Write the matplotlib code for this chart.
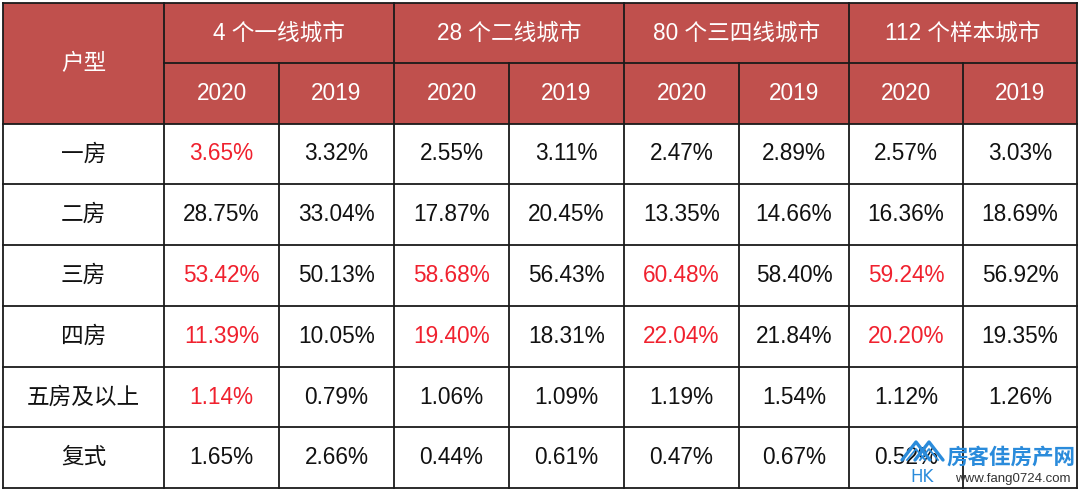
import matplotlib
matplotlib.use('Agg')
import matplotlib.pyplot as plt
from matplotlib.patches import Rectangle

plt.rcParams['font.family'] = ['Liberation Sans', 'Noto Sans CJK SC', 'DejaVu Sans']

# 데이터
groups = ['4 个一线城市', '28 个二线城市', '80 个三四线城市', '112 个样本城市']
years = ['2020', '2019']
room_types = ['一房', '二房', '三房', '四房', '五房及以上', '复式']
values = [
    ['3.65%', '3.32%', '2.55%', '3.11%', '2.47%', '2.89%', '2.57%', '3.03%'],
    ['28.75%', '33.04%', '17.87%', '20.45%', '13.35%', '14.66%', '16.36%', '18.69%'],
    ['53.42%', '50.13%', '58.68%', '56.43%', '60.48%', '58.40%', '59.24%', '56.92%'],
    ['11.39%', '10.05%', '19.40%', '18.31%', '22.04%', '21.84%', '20.20%', '19.35%'],
    ['1.14%', '0.79%', '1.06%', '1.09%', '1.19%', '1.54%', '1.12%', '1.26%'],
    ['1.65%', '2.66%', '0.44%', '0.61%', '0.47%', '0.67%', '0.52%', ''],  # 마지막 셀은 워터마크에 가려짐
]
# 빨간 글씨 셀 (row, col)
highlight = [(0, 0), (2, 0), (2, 2), (2, 4), (2, 6), (3, 0), (3, 2), (3, 4), (3, 6), (4, 0)]

# 레이아웃 (픽셀)
col_x = [3, 164, 279, 394, 509, 624, 739, 849, 963, 1077]
row_y = [3, 63, 124, 184, 245, 306, 367, 427, 488]

header_color = '#C0504D'
red = '#F0212E'
line_color = '#1a1a1a'
wm_blue = '#2A8BDB'

fig = plt.figure(figsize=(10.8, 4.91), dpi=100)
ax = fig.add_axes([0, 0, 1, 1])
ax.set_xlim(0, 1080)
ax.set_ylim(491, 0)
ax.axis('off')

# 헤더 배경
ax.add_patch(Rectangle((col_x[0], row_y[0]), col_x[-1] - col_x[0], row_y[2] - row_y[0],
                       facecolor=header_color, edgecolor='none'))

fs = 16.3
# 헤더 텍스트
ax.text((col_x[0] + col_x[1]) / 2, (row_y[0] + row_y[2]) / 2, '户型',
        ha='center', va='center', fontsize=fs, color='white')
for g, name in enumerate(groups):
    x0, x1 = col_x[1 + 2 * g], col_x[3 + 2 * g]
    ax.text((x0 + x1) / 2, (row_y[0] + row_y[1]) / 2, name,
            ha='center', va='center', fontsize=fs, color='white')
    for k, y in enumerate(years):
        c = 1 + 2 * g + k
        ax.text((col_x[c] + col_x[c + 1]) / 2, (row_y[1] + row_y[2]) / 2, y,
                ha='center', va='center', fontsize=fs, color='white')

# 본문
for r, name in enumerate(room_types):
    yc = (row_y[r + 2] + row_y[r + 3]) / 2
    ax.text((col_x[0] + col_x[1]) / 2, yc, name, ha='center', va='center',
            fontsize=fs, color='#111111')
    for c, v in enumerate(values[r]):
        if not v:
            continue
        color = red if (r, c) in highlight else '#111111'
        ax.text((col_x[c + 1] + col_x[c + 2]) / 2, yc, v, ha='center', va='center',
                fontsize=fs, color=color)

# 격자선
lw = 1.3
ax.plot([col_x[0], col_x[-1]], [row_y[0]] * 2, color=line_color, lw=lw)
ax.plot([col_x[1], col_x[-1]], [row_y[1]] * 2, color=line_color, lw=lw)
for y in row_y[2:]:
    ax.plot([col_x[0], col_x[-1]], [y, y], color=line_color, lw=lw)
for i, x in enumerate(col_x):
    if i in (0, 1, 3, 5, 7, 9):
        ax.plot([x, x], [row_y[0], row_y[-1]], color=line_color, lw=lw)
    else:
        ax.plot([x, x], [row_y[1], row_y[-1]], color=line_color, lw=lw)

# 워터마크
for dx in (0, 13):
    ax.plot([902 + dx, 916 + dx, 930 + dx], [460, 442, 460], color=wm_blue, lw=2.4,
            solid_capstyle='round', zorder=5)
    ax.plot([907 + dx, 916 + dx, 925 + dx], [460, 449, 460], color=wm_blue, lw=1.3, zorder=5)
ax.text(922, 477, 'HK', ha='center', va='center', fontsize=12, color=wm_blue,
        family=['DejaVu Sans'], zorder=5)
ax.text(1075, 457, '房客佳房产网', ha='right', va='center', fontsize=15.5,
        fontweight='bold', color=wm_blue, family=['Noto Sans CJK SC'], zorder=5)
ax.text(1071, 479, 'www.fang0724.com', ha='right', va='center', fontsize=9.5,
        color='#333333', zorder=5)

fig.savefig('out.png', dpi=100, facecolor='white')
